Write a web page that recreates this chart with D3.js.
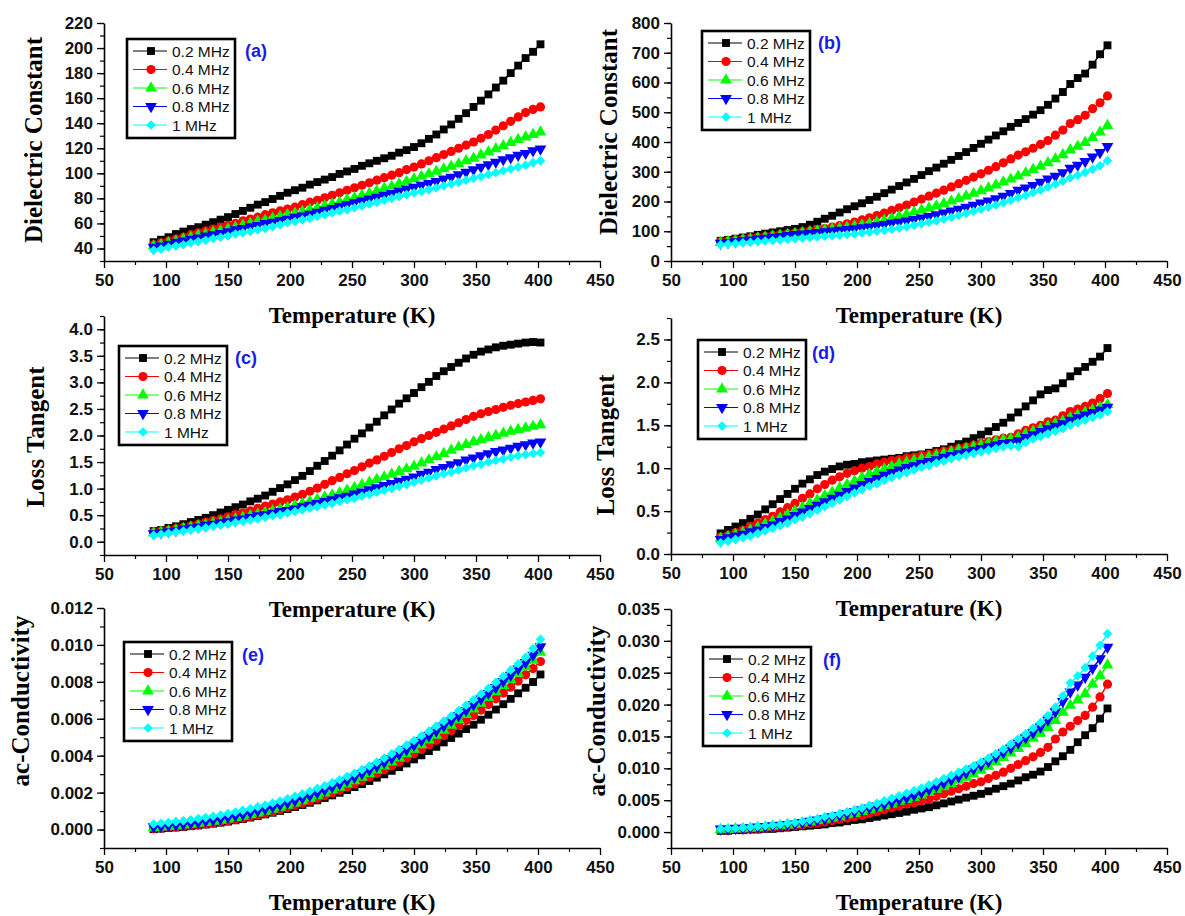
<!DOCTYPE html>
<html lang="en">
<head>
<meta charset="UTF-8">
<script src="https://d3js.org/d3.v7.min.js"></script>
<title>Dielectric properties vs temperature</title>
<style>
    body { margin: 0; background: #fff; }
    svg { display: block; }
</style>
</head>
<body>
<div id="viz"></div>
<script>
    // temperature points (K), shared by every panel
    const temperature = [90, 96, 102, 108, 114, 120, 126, 132, 138, 144, 150, 156, 162, 168, 174, 180, 186, 192, 198, 204,
        210, 216, 222, 228, 234, 240, 246, 252, 258, 264, 270, 276, 282, 288, 294, 300, 306, 312, 318, 324,
        330, 336, 342, 348, 354, 360, 366, 372, 378, 384, 390, 396, 402];

    const frequencies = ["0.2 MHz", "0.4 MHz", "0.6 MHz", "0.8 MHz", "1 MHz"];
    const panelTags = ["(a)", "(b)", "(c)", "(d)", "(e)", "(f)"];

    // (a) dielectric constant, sample 1 -- one row per frequency
    const dielectricA = [
        [45, 47, 49, 51.5, 53.5, 55.5, 57, 59, 61, 63, 65, 67.5, 70, 72.5, 75, 77, 79.5, 82, 84.5, 86.5, 88.5, 91, 93, 95, 97, 99.5, 101.5, 103.5, 106, 108, 110, 112, 114, 116.5, 118.5, 121, 124, 127.5, 131, 135, 139, 143.5, 148, 153, 158, 163, 168.5, 174, 180, 186, 192, 197, 203],
        [43, 44.5, 46, 47.5, 49, 51, 52.5, 54, 55.5, 57, 58.5, 60, 62, 63.5, 65, 67, 68.5, 70, 71.5, 73, 75, 77, 78.5, 80.5, 82.5, 84.5, 86.5, 88.5, 90.5, 92.5, 94.5, 96.5, 98.5, 100.5, 103, 105, 107.5, 110, 112.5, 115, 117.5, 120, 122.5, 125, 128, 131, 134.5, 138, 141.5, 145, 148.5, 151, 153],
        [42, 43, 44.5, 46, 47.5, 49, 50.5, 51.5, 53, 54, 55.5, 57, 58.5, 60, 61.5, 62.5, 64, 65.5, 67, 68, 69.5, 71, 72.5, 74, 75.5, 77, 79, 80.5, 82.5, 84, 86, 88, 89.5, 91.5, 93.5, 95.5, 97.5, 99.5, 101.5, 103.5, 105.5, 107.5, 110, 112, 114.5, 117, 119.5, 122, 124.5, 127, 129, 131, 133],
        [41, 42, 43.5, 45, 46, 47.5, 48.5, 50, 51, 52, 53.5, 55, 56, 57.5, 58.5, 60, 61, 62.5, 63.5, 65, 66, 67.5, 69, 70.5, 72, 73.5, 75, 76.5, 78, 79.5, 81, 82.5, 84, 86, 87.5, 89, 90.5, 92, 93.5, 95.5, 97, 99, 101, 103, 105, 107, 109, 111, 112.5, 114.5, 116, 118, 119.5],
        [38.5, 39.5, 41, 42, 43, 44.5, 45.5, 46.5, 48, 49, 50, 51.5, 52.5, 53.5, 55, 56, 57.5, 59, 60.5, 61.5, 63, 64, 65.5, 67, 68.5, 70, 71, 72.5, 74, 75.5, 77, 78.5, 80, 81.5, 83, 84.5, 85.5, 87, 88.5, 90, 91.5, 93, 94.5, 96, 97.5, 99, 100.5, 102, 103.5, 105, 106.5, 108.5, 110]
    ];

    // (b) dielectric constant, sample 2
    const dielectricB = [
        [68, 71, 75, 79, 83, 88, 92, 96, 100, 104, 108, 114, 122, 132, 142, 152, 163, 174, 184, 194, 205, 216, 228, 240, 252, 264, 276, 289, 302, 314, 327, 340, 353, 366, 380, 394, 408, 422, 436, 451, 464, 477, 492, 507, 525, 546, 568, 595, 615, 630, 660, 695, 725],
        [65, 68, 71, 74, 77, 80, 83, 86, 89, 92, 95, 98, 101, 105, 109, 114, 119, 125, 131, 138, 145, 153, 161, 170, 179, 188, 198, 208, 218, 228, 238, 249, 260, 271, 282, 293, 305, 317, 330, 343, 356, 367, 379, 392, 405, 423, 440, 462, 475, 490, 512, 532, 555],
        [62, 65, 68, 71, 74, 77, 80, 83, 86, 89, 92, 95, 98, 101, 104, 107, 110, 113, 117, 121, 126, 131, 137, 143, 150, 157, 164, 171, 178, 185, 193, 201, 209, 218, 227, 236, 245, 255, 265, 275, 285, 296, 307, 318, 330, 343, 357, 373, 385, 398, 415, 433, 455],
        [60, 62, 65, 68, 71, 74, 77, 80, 83, 86, 89, 91, 94, 96, 99, 101, 104, 106, 109, 112, 115, 119, 123, 127, 131, 135, 140, 145, 150, 156, 162, 168, 174, 181, 188, 195, 202, 210, 218, 227, 238, 246, 254, 265, 276, 285, 297, 312, 322, 335, 350, 365, 385],
        [55, 57, 59, 61, 63, 65, 67, 69, 71, 73, 75, 77, 79, 81, 83, 85, 87, 89, 91, 94, 97, 100, 103, 107, 111, 115, 120, 125, 130, 135, 141, 147, 153, 160, 167, 174, 181, 188, 196, 204, 213, 220, 230, 239, 249, 258, 268, 280, 288, 298, 308, 320, 337]
    ];

    // (c) loss tangent, sample 1
    const lossC = [
        [0.2, 0.22, 0.26, 0.29, 0.33, 0.37, 0.41, 0.45, 0.5, 0.55, 0.6, 0.65, 0.7, 0.76, 0.81, 0.87, 0.94, 1.01, 1.08, 1.16, 1.24, 1.33, 1.43, 1.52, 1.62, 1.72, 1.83, 1.94, 2.04, 2.15, 2.26, 2.38, 2.49, 2.6, 2.7, 2.8, 2.91, 3.01, 3.12, 3.21, 3.29, 3.37, 3.45, 3.52, 3.58, 3.62, 3.66, 3.69, 3.71, 3.73, 3.75, 3.76, 3.75],
        [0.18, 0.2, 0.22, 0.25, 0.27, 0.3, 0.33, 0.37, 0.4, 0.43, 0.47, 0.51, 0.54, 0.58, 0.63, 0.67, 0.71, 0.75, 0.79, 0.84, 0.89, 0.95, 1.01, 1.08, 1.15, 1.21, 1.28, 1.34, 1.41, 1.48, 1.54, 1.61, 1.68, 1.75, 1.81, 1.88, 1.94, 2.0, 2.06, 2.12, 2.18, 2.24, 2.3, 2.36, 2.41, 2.45, 2.49, 2.53, 2.57, 2.6, 2.63, 2.66, 2.69],
        [0.16, 0.18, 0.2, 0.22, 0.25, 0.27, 0.3, 0.32, 0.35, 0.37, 0.4, 0.43, 0.46, 0.49, 0.52, 0.55, 0.58, 0.61, 0.64, 0.68, 0.72, 0.76, 0.8, 0.84, 0.88, 0.92, 0.97, 1.02, 1.07, 1.12, 1.17, 1.22, 1.27, 1.32, 1.37, 1.42, 1.48, 1.54, 1.6, 1.66, 1.72, 1.78, 1.83, 1.88, 1.92, 1.96, 2.0, 2.04, 2.08, 2.11, 2.14, 2.17, 2.2],
        [0.15, 0.17, 0.19, 0.21, 0.24, 0.26, 0.28, 0.31, 0.33, 0.36, 0.38, 0.41, 0.43, 0.46, 0.49, 0.51, 0.54, 0.57, 0.59, 0.62, 0.66, 0.69, 0.72, 0.76, 0.79, 0.83, 0.86, 0.9, 0.94, 0.98, 1.02, 1.06, 1.1, 1.14, 1.18, 1.22, 1.27, 1.31, 1.36, 1.4, 1.45, 1.49, 1.54, 1.58, 1.62, 1.66, 1.7, 1.73, 1.76, 1.8, 1.83, 1.86, 1.88],
        [0.12, 0.14, 0.16, 0.18, 0.2, 0.22, 0.24, 0.26, 0.29, 0.31, 0.33, 0.36, 0.38, 0.41, 0.43, 0.46, 0.49, 0.51, 0.54, 0.57, 0.6, 0.63, 0.66, 0.69, 0.72, 0.76, 0.79, 0.82, 0.86, 0.89, 0.93, 0.97, 1.0, 1.04, 1.08, 1.12, 1.16, 1.2, 1.24, 1.28, 1.31, 1.35, 1.39, 1.43, 1.46, 1.5, 1.53, 1.56, 1.59, 1.62, 1.64, 1.66, 1.68]
    ];

    // (d) loss tangent, sample 2
    const lossD = [
        [0.24, 0.28, 0.32, 0.36, 0.41, 0.46, 0.52, 0.58, 0.64, 0.7, 0.76, 0.82, 0.87, 0.92, 0.96, 0.99, 1.02, 1.04, 1.05, 1.07, 1.08, 1.09, 1.1, 1.11, 1.12, 1.14, 1.15, 1.16, 1.18, 1.2, 1.22, 1.25, 1.28, 1.31, 1.35, 1.39, 1.43, 1.48, 1.53, 1.59, 1.65, 1.72, 1.79, 1.86, 1.91, 1.93, 1.99, 2.07, 2.13, 2.18, 2.24, 2.3, 2.4],
        [0.2, 0.22, 0.25, 0.28, 0.32, 0.36, 0.4, 0.44, 0.49, 0.54, 0.59, 0.65, 0.7, 0.76, 0.81, 0.86, 0.9, 0.94, 0.97, 1.0, 1.02, 1.05, 1.07, 1.09, 1.1, 1.12, 1.13, 1.15, 1.16, 1.18, 1.2, 1.21, 1.23, 1.25, 1.27, 1.29, 1.31, 1.33, 1.35, 1.36, 1.4, 1.44, 1.47, 1.5, 1.54, 1.56, 1.61, 1.66, 1.69, 1.72, 1.76, 1.81, 1.87],
        [0.18, 0.2, 0.23, 0.25, 0.28, 0.31, 0.35, 0.38, 0.42, 0.46, 0.5, 0.54, 0.59, 0.63, 0.68, 0.72, 0.77, 0.81, 0.85, 0.89, 0.93, 0.96, 0.99, 1.02, 1.05, 1.07, 1.09, 1.11, 1.13, 1.15, 1.17, 1.19, 1.21, 1.23, 1.25, 1.27, 1.29, 1.31, 1.33, 1.34, 1.36, 1.4, 1.43, 1.46, 1.49, 1.52, 1.55, 1.59, 1.62, 1.65, 1.68, 1.71, 1.74],
        [0.17, 0.19, 0.21, 0.23, 0.26, 0.28, 0.31, 0.34, 0.38, 0.41, 0.45, 0.49, 0.53, 0.57, 0.61, 0.65, 0.69, 0.73, 0.77, 0.81, 0.85, 0.88, 0.92, 0.95, 0.98, 1.01, 1.03, 1.06, 1.08, 1.1, 1.13, 1.15, 1.17, 1.19, 1.21, 1.23, 1.25, 1.27, 1.29, 1.3, 1.32, 1.36, 1.39, 1.43, 1.46, 1.49, 1.52, 1.56, 1.59, 1.62, 1.65, 1.68, 1.71],
        [0.13, 0.15, 0.17, 0.19, 0.21, 0.24, 0.27, 0.3, 0.33, 0.36, 0.4, 0.43, 0.47, 0.51, 0.55, 0.59, 0.63, 0.67, 0.71, 0.75, 0.79, 0.82, 0.86, 0.89, 0.92, 0.95, 0.98, 1.01, 1.03, 1.06, 1.08, 1.11, 1.13, 1.15, 1.17, 1.19, 1.21, 1.23, 1.25, 1.26, 1.25, 1.3, 1.34, 1.37, 1.4, 1.43, 1.46, 1.5, 1.53, 1.56, 1.59, 1.62, 1.66]
    ];

    // (e) ac-conductivity, sample 1
    const conductivityE = [
        [0.00002, 0.00005, 0.00008, 0.00011, 0.00014, 0.00018, 0.00022, 0.00027, 0.00032, 0.00037, 0.00043, 0.0005, 0.00057, 0.00065, 0.00073, 0.00082, 0.00091, 0.00101, 0.00111, 0.00122, 0.00133, 0.00145, 0.00158, 0.00171, 0.00185, 0.00199, 0.00214, 0.0023, 0.00246, 0.00263, 0.00281, 0.00299, 0.00318, 0.00338, 0.00358, 0.0038, 0.00402, 0.00425, 0.00448, 0.00472, 0.00496, 0.0052, 0.00544, 0.00568, 0.00595, 0.00622, 0.0065, 0.00679, 0.00708, 0.00738, 0.00768, 0.00799, 0.0084],
        [0.00005, 0.00008, 0.00011, 0.00014, 0.00018, 0.00022, 0.00026, 0.00031, 0.00036, 0.00042, 0.00048, 0.00055, 0.00062, 0.0007, 0.00079, 0.00088, 0.00098, 0.00108, 0.00119, 0.0013, 0.00142, 0.00155, 0.00169, 0.00183, 0.00198, 0.00213, 0.0023, 0.00247, 0.00265, 0.00284, 0.00303, 0.00323, 0.00344, 0.00365, 0.00387, 0.0041, 0.00434, 0.00458, 0.00483, 0.00509, 0.00535, 0.00562, 0.0059, 0.00618, 0.00647, 0.00677, 0.00708, 0.00739, 0.00771, 0.00804, 0.00838, 0.00872, 0.0091],
        [0.0001, 0.00013, 0.00016, 0.0002, 0.00024, 0.00028, 0.00033, 0.00038, 0.00044, 0.0005, 0.00057, 0.00064, 0.00072, 0.0008, 0.00089, 0.00099, 0.00109, 0.0012, 0.00131, 0.00143, 0.00156, 0.00169, 0.00183, 0.00198, 0.00213, 0.00229, 0.00246, 0.00264, 0.00283, 0.00302, 0.00322, 0.00343, 0.00365, 0.00387, 0.0041, 0.00434, 0.00459, 0.00484, 0.0051, 0.00537, 0.00565, 0.00593, 0.00622, 0.00652, 0.00683, 0.00714, 0.00746, 0.00779, 0.00812, 0.00846, 0.00881, 0.00917, 0.0096],
        [0.00015, 0.00018, 0.00022, 0.00026, 0.0003, 0.00035, 0.0004, 0.00046, 0.00052, 0.00059, 0.00067, 0.00075, 0.00083, 0.00092, 0.00102, 0.00112, 0.00123, 0.00134, 0.00146, 0.00158, 0.00171, 0.00185, 0.002, 0.00215, 0.00231, 0.00248, 0.00266, 0.00284, 0.00303, 0.00323, 0.00343, 0.00364, 0.00386, 0.00409, 0.00433, 0.00457, 0.00482, 0.00508, 0.00534, 0.00561, 0.00589, 0.00617, 0.00646, 0.00676, 0.00707, 0.00738, 0.0077, 0.00803, 0.00836, 0.0087, 0.00905, 0.00945, 0.0099],
        [0.0003, 0.00034, 0.00038, 0.00043, 0.00048, 0.00053, 0.00059, 0.00065, 0.00072, 0.00079, 0.00087, 0.00095, 0.00104, 0.00113, 0.00123, 0.00133, 0.00144, 0.00155, 0.00167, 0.0018, 0.00193, 0.00207, 0.00222, 0.00237, 0.00253, 0.0027, 0.00287, 0.00305, 0.00324, 0.00344, 0.00365, 0.00387, 0.0041, 0.00433, 0.00457, 0.00482, 0.00507, 0.00533, 0.0056, 0.00587, 0.00615, 0.00644, 0.00673, 0.00703, 0.00734, 0.00765, 0.00797, 0.0083, 0.00864, 0.00898, 0.00933, 0.0098, 0.0103]
    ];

    // (f) ac-conductivity, sample 2
    const conductivityF = [
        [0.0002, 0.0002, 0.0003, 0.0003, 0.0004, 0.0004, 0.0005, 0.0005, 0.0006, 0.0007, 0.0008, 0.0009, 0.001, 0.0011, 0.0012, 0.0014, 0.0015, 0.0017, 0.0019, 0.002, 0.0022, 0.0024, 0.0026, 0.0028, 0.003, 0.0032, 0.0035, 0.0037, 0.0039, 0.0042, 0.0045, 0.0048, 0.0051, 0.0054, 0.0057, 0.006, 0.0064, 0.0068, 0.0072, 0.0076, 0.0081, 0.0086, 0.009, 0.0095, 0.0102, 0.0111, 0.0119, 0.0129, 0.0141, 0.0152, 0.0163, 0.0178, 0.0194],
        [0.0003, 0.0003, 0.0004, 0.0004, 0.0005, 0.0005, 0.0006, 0.0007, 0.0008, 0.0009, 0.001, 0.0011, 0.0013, 0.0014, 0.0016, 0.0018, 0.002, 0.0022, 0.0024, 0.0026, 0.0029, 0.0032, 0.0035, 0.0038, 0.0041, 0.0044, 0.0046, 0.0049, 0.0052, 0.0056, 0.006, 0.0064, 0.0068, 0.0072, 0.0076, 0.0079, 0.0084, 0.0089, 0.0094, 0.01, 0.0106, 0.0112, 0.0118, 0.0125, 0.0133, 0.0146, 0.0157, 0.0166, 0.0175, 0.0183, 0.0196, 0.0212, 0.0232],
        [0.0004, 0.0004, 0.0005, 0.0005, 0.0006, 0.0007, 0.0008, 0.0009, 0.001, 0.0011, 0.0012, 0.0014, 0.0016, 0.0018, 0.002, 0.0022, 0.0024, 0.0027, 0.0029, 0.0032, 0.0035, 0.0038, 0.0041, 0.0044, 0.0048, 0.0051, 0.0054, 0.0058, 0.0062, 0.0067, 0.0071, 0.0076, 0.0081, 0.0086, 0.0091, 0.0097, 0.0103, 0.011, 0.0117, 0.0124, 0.0131, 0.0139, 0.0147, 0.0155, 0.0164, 0.0175, 0.0188, 0.0199, 0.0207, 0.0217, 0.0232, 0.0245, 0.0262],
        [0.0005, 0.0005, 0.0006, 0.0006, 0.0007, 0.0008, 0.0009, 0.001, 0.0011, 0.0012, 0.0013, 0.0015, 0.0017, 0.0019, 0.0021, 0.0024, 0.0026, 0.0029, 0.0032, 0.0035, 0.0038, 0.0041, 0.0044, 0.0047, 0.0051, 0.0054, 0.0058, 0.0062, 0.0067, 0.0072, 0.0077, 0.0082, 0.0087, 0.0093, 0.0099, 0.0105, 0.0111, 0.0118, 0.0125, 0.0132, 0.014, 0.0148, 0.0156, 0.0165, 0.0176, 0.0189, 0.0205, 0.022, 0.0231, 0.0243, 0.0257, 0.0272, 0.029],
        [0.0005, 0.0006, 0.0006, 0.0007, 0.0008, 0.0009, 0.001, 0.0011, 0.0012, 0.0014, 0.0015, 0.0017, 0.0019, 0.0021, 0.0024, 0.0026, 0.0029, 0.0032, 0.0035, 0.0038, 0.0042, 0.0045, 0.0049, 0.0053, 0.0057, 0.0061, 0.0065, 0.0069, 0.0074, 0.0079, 0.0084, 0.0089, 0.0094, 0.0099, 0.0104, 0.011, 0.0116, 0.0123, 0.013, 0.0138, 0.0146, 0.0154, 0.0163, 0.0172, 0.0183, 0.0196, 0.0214, 0.0234, 0.0245, 0.0258, 0.0276, 0.0293, 0.0311]
    ];

    // tick values
    const xTicks = [50, 100, 150, 200, 250, 300, 350, 400, 450];
    const yTicksA = [40, 60, 80, 100, 120, 140, 160, 180, 200, 220];
    const yTicksB = [0, 100, 200, 300, 400, 500, 600, 700, 800];
    const yTicksC = [0, 0.5, 1, 1.5, 2, 2.5, 3, 3.5, 4];
    const yTicksD = [0, 0.5, 1, 1.5, 2, 2.5];
    const yTicksE = [0, 0.002, 0.004, 0.006, 0.008, 0.010, 0.012];
    const yTicksF = [0, 0.005, 0.010, 0.015, 0.020, 0.025, 0.030, 0.035];

    // ---- styling / layout ----
    const colors = ["#000000", "#ff0000", "#00ff00", "#0000ff", "#00ffff"];
    const symbols = [
        {type: d3.symbolSquare, size: 62, rot: 0},
        {type: d3.symbolCircle, size: 66, rot: 0},
        {type: d3.symbolTriangle, size: 60, rot: 0},
        {type: d3.symbolTriangle, size: 60, rot: 180},
        {type: d3.symbolSquare, size: 46, rot: 45}
    ];
    const sansFont = "'Liberation Sans', Arial, sans-serif";
    const serifFont = "'Liberation Serif', 'Times New Roman', serif";
    const tagColor = "#1a1ae6";

    const LEFT = [104, 600], RIGHT = [671, 1167];
    const panels = [
        {data: dielectricA, title: "Dielectric Constant", ticks: yTicksA, minor: 10, fmt: "d", domain: [30, 220],
            xr: LEFT, yr: [261, 23], titleX: 42, titleY: 140, legend: [127, 39], tag: [245, 51]},
        {data: dielectricB, title: "Dielectric Constant", ticks: yTicksB, minor: 50, fmt: "d", domain: [0, 800],
            xr: RIGHT, yr: [261, 23], titleX: 617, titleY: 132, legend: [702, 31], tag: [818, 43]},
        {data: lossC, title: "Loss Tangent", ticks: yTicksC, minor: 0.25, fmt: ".1f", domain: [-0.25, 4.25],
            xr: LEFT, yr: [555, 316], titleX: 44, titleY: 437, legend: [119, 346], tag: [235, 358]},
        {data: lossD, title: "Loss Tangent", ticks: yTicksD, minor: 0.25, fmt: ".1f", domain: [0, 2.75],
            xr: RIGHT, yr: [554, 318], titleX: 614, titleY: 445, legend: [698, 340], tag: [812, 353]},
        {data: conductivityE, title: "ac-Conductivity", ticks: yTicksE, minor: 0.001, fmt: ".3f", domain: [-0.001, 0.012],
            xr: LEFT, yr: [848, 608], titleX: 29, titleY: 701, legend: [124, 642], tag: [242, 655]},
        {data: conductivityF, title: "ac-Conductivity", ticks: yTicksF, minor: 0.0025, fmt: ".3f", domain: [-0.0025, 0.035],
            xr: RIGHT, yr: [848, 609], titleX: 605, titleY: 711, legend: [703, 647], tag: [823, 660]}
    ];

    const svg = d3.select("#viz")
        .append("svg")
        .attr("width", 1185)
        .attr("height", 916);

    function styleAxis(g) {
        g.attr("font-family", sansFont).attr("font-size", 17).attr("font-weight", "bold");
        g.select(".domain").attr("stroke-width", 1.6);
        g.selectAll(".tick line").attr("stroke-width", 1.3);
        g.selectAll(".tick text").attr("fill", "#111");
    }

    panels.forEach((p, pi) => {
        const x = d3.scaleLinear().domain([50, 450]).range(p.xr);
        const y = d3.scaleLinear().domain(p.domain).range(p.yr);
        const g = svg.append("g");

        // minor ticks
        const xMinor = d3.range(75, 450, 50);
        const yMinor = d3.range(Math.ceil(p.domain[0] / p.minor) * p.minor, p.domain[1] + p.minor / 10, p.minor);

        g.append("g")
            .attr("transform", `translate(0,${p.yr[0]})`)
            .call(d3.axisBottom(x).tickValues(xMinor).tickSize(4).tickFormat(""))
            .call(a => a.select(".domain").remove())
            .selectAll("line").attr("stroke-width", 1.2);
        g.append("g")
            .attr("transform", `translate(${p.xr[0]},0)`)
            .call(d3.axisLeft(y).tickValues(yMinor).tickSize(4).tickFormat(""))
            .call(a => a.select(".domain").remove())
            .selectAll("line").attr("stroke-width", 1.2);

        // main axes
        g.append("g")
            .attr("transform", `translate(0,${p.yr[0]})`)
            .call(d3.axisBottom(x).tickValues(xTicks).tickSize(7).tickSizeOuter(0).tickPadding(6))
            .call(styleAxis);
        g.append("g")
            .attr("transform", `translate(${p.xr[0]},0)`)
            .call(d3.axisLeft(y).tickValues(p.ticks).tickSize(7).tickSizeOuter(0).tickPadding(4).tickFormat(d3.format(p.fmt)))
            .call(styleAxis);

        // axis titles
        g.append("text")
            .attr("x", (p.xr[0] + p.xr[1]) / 2)
            .attr("y", p.yr[0] + 62)
            .attr("text-anchor", "middle")
            .style("font", `bold 23px ${serifFont}`)
            .text("Temperature (K)");
        g.append("text")
            .attr("transform", `translate(${p.titleX},${p.titleY}) rotate(-90)`)
            .attr("text-anchor", "middle")
            .style("font", `bold 25px ${serifFont}`)
            .text(p.title);

        // series: thin line + markers
        const line = d3.line().x((d, i) => x(temperature[i])).y(d => y(d));
        p.data.forEach((vals, si) => {
            g.append("path")
                .datum(vals)
                .attr("fill", "none")
                .attr("stroke", colors[si])
                .attr("stroke-width", 1.5)
                .attr("d", line);
            const sym = d3.symbol().type(symbols[si].type).size(symbols[si].size);
            g.append("g")
                .selectAll("path")
                .data(vals)
                .join("path")
                .attr("d", sym)
                .attr("fill", colors[si])
                .attr("transform", (d, i) => `translate(${x(temperature[i])},${y(d)}) rotate(${symbols[si].rot})`);
        });

        // legend
        const lg = g.append("g").attr("transform", `translate(${p.legend[0]},${p.legend[1]})`);
        lg.append("rect")
            .attr("width", 108)
            .attr("height", 99)
            .attr("fill", "#fff")
            .attr("stroke", "#000")
            .attr("stroke-width", 2.6);
        frequencies.forEach((f, si) => {
            const ry = 12 + si * 18.5;
            lg.append("line")
                .attr("x1", 6).attr("x2", 40)
                .attr("y1", ry).attr("y2", ry)
                .attr("stroke", colors[si])
                .attr("stroke-width", 1);
            lg.append("path")
                .attr("d", d3.symbol().type(symbols[si].type).size(symbols[si].size)())
                .attr("fill", colors[si])
                .attr("transform", `translate(24,${ry}) rotate(${symbols[si].rot})`);
            lg.append("text")
                .attr("x", 45)
                .attr("y", ry)
                .attr("dy", "0.36em")
                .style("font", `15.5px ${sansFont}`)
                .attr("fill", "#111")
                .text(f);
        });

        // panel tag
        g.append("text")
            .attr("x", p.tag[0])
            .attr("y", p.tag[1])
            .attr("dy", "0.36em")
            .style("font", `bold 18px ${sansFont}`)
            .attr("fill", tagColor)
            .text(panelTags[pi]);
    });
</script>
</body>
</html>
